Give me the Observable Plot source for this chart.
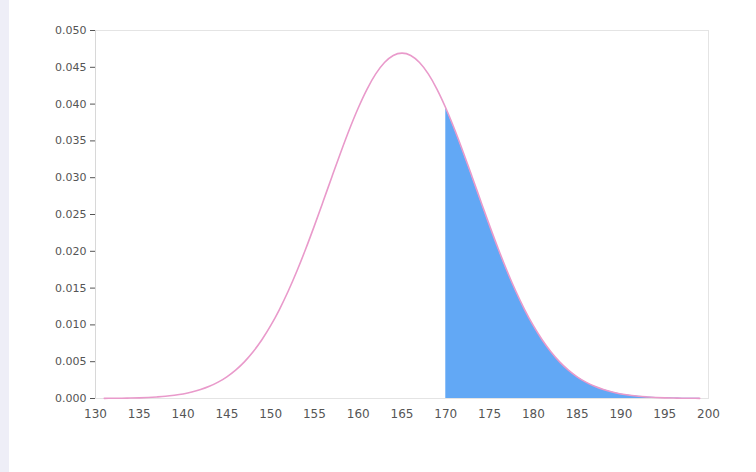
<!DOCTYPE html>
<html>
<head>
<meta charset="utf-8">
<script src="https://cdn.jsdelivr.net/npm/d3@7"></script>
<script src="https://cdn.jsdelivr.net/npm/@observablehq/plot@0.6"></script>
<style>
  body { margin: 0; background: #fff; }
  #chart g[aria-label="x-axis tick label"] { font-size: 12px; }
</style>
</head>
<body>
<div id="chart"></div>
<script>
// heights (cm) and density
const heights = d3.range(131, 200);
const density = [
  0.00002, 0.00003, 0.00004, 0.00006, 0.00009, 0.00014, 0.00021, 0.00030, 0.00044, 0.00062,
  0.00087, 0.00121, 0.00165, 0.00222, 0.00295, 0.00386, 0.00498, 0.00635, 0.00798, 0.00989,
  0.01209, 0.01457, 0.01732, 0.02031, 0.02349, 0.02679, 0.03014, 0.03343, 0.03658, 0.03947,
  0.04201, 0.04410, 0.04565, 0.04661, 0.04693, 0.04661, 0.04565, 0.04410, 0.04201, 0.03947,
  0.03658, 0.03343, 0.03014, 0.02679, 0.02349, 0.02031, 0.01732, 0.01457, 0.01209, 0.00989,
  0.00798, 0.00635, 0.00498, 0.00386, 0.00295, 0.00222, 0.00165, 0.00121, 0.00087, 0.00062,
  0.00044, 0.00030, 0.00021, 0.00014, 0.00009, 0.00006, 0.00004, 0.00003, 0.00002
];
const cutoff = 170;
const xTicks = d3.range(130, 201, 5);
const yTicks = d3.range(0, 0.0501, 0.005);

const data = heights.map((h, i) => ({x: h, y: density[i]}));
const tail = data.filter(d => d.x >= cutoff);

let chart = Plot.plot({
  width: 756,
  height: 472,
  marginLeft: 95,
  marginRight: 48,
  marginTop: 30,
  marginBottom: 74,
  x: {domain: [130, 200], ticks: xTicks, tickSize: 0, tickPadding: 11, label: null},
  y: {domain: [0, 0.05], ticks: yTicks, tickFormat: ".3f", tickSize: 5, tickPadding: 4, label: null},
  marks: [
    Plot.frame({stroke: "#e4e4e4"}),
    Plot.areaY(tail, {x: "x", y: "y", fill: "#62a8f5", curve: "monotone-x"}),
    Plot.line(data, {x: "x", y: "y", stroke: "#e99acb", strokeWidth: 1.6, curve: "monotone-x"}),
    Plot.ruleX([130], {stroke: "#d8d8d8", y1: 0, y2: 0.05})
  ],
  style: {
    fontFamily: "DejaVu Sans",
    fontSize: "11px",
    color: "#555",
    background: "linear-gradient(to right, #eeeef7 0, #eeeef7 9px, #fff 9px)"
  }
});

d3.select('#chart').append(() => chart);
</script>
</body>
</html>
